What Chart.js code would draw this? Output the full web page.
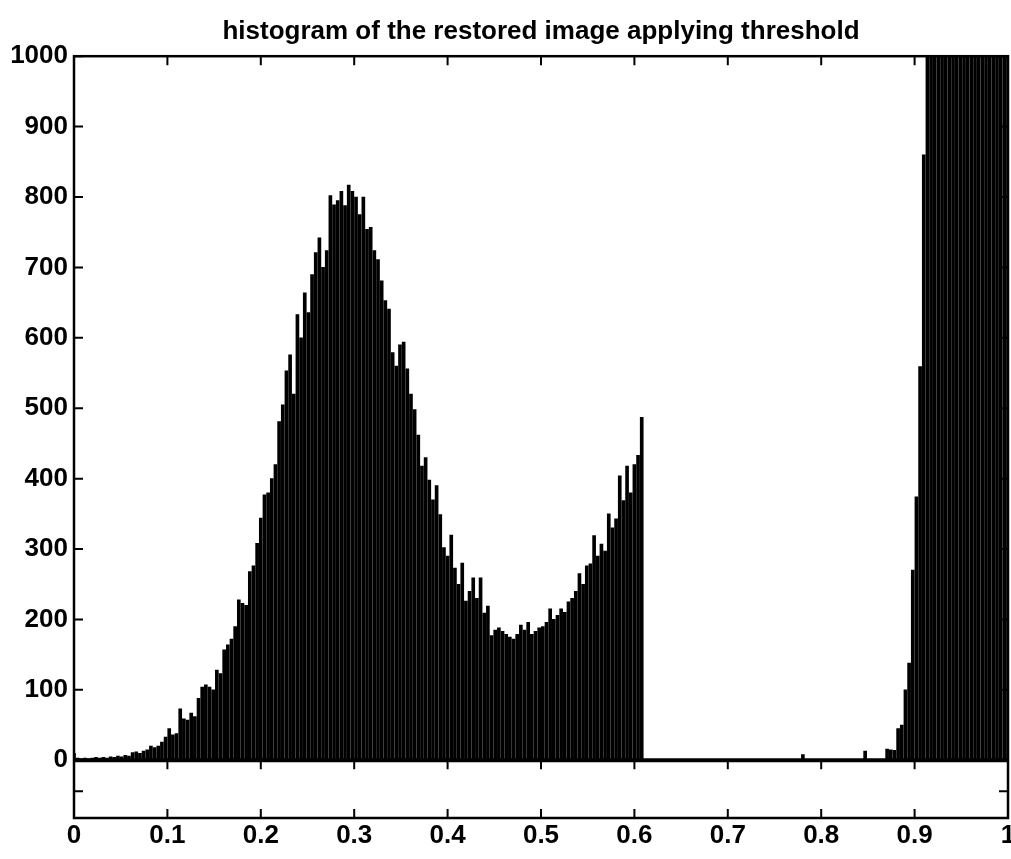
<!DOCTYPE html>
<html>
<head>
<meta charset="utf-8">
<title>histogram of the restored image applying threshold</title>
<script src="https://cdn.jsdelivr.net/npm/chart.js@4.4.0/dist/chart.umd.min.js"></script>
<style>
  html, body { margin: 0; padding: 0; background: #fff; }
</style>
</head>
<body>
<canvas id="myChart" width="1011" height="859"></canvas>
<script>
// histogram data, 256 bins over [0, 1]
var nBins = 256;

// counts per bin (values above 1000 are cut by the axis)
var counts = [
  // 0 - 31
  10, 3, 2, 3, 2, 3, 4, 3, 4, 3, 5, 4, 6, 5, 7, 6,
  11, 12, 10, 13, 15, 20, 18, 20, 26, 33, 45, 36, 38, 73, 59, 57,
  // 32 - 63
  67, 62, 88, 104, 107, 104, 100, 128, 123, 157, 164, 172, 190, 228, 223, 220,
  268, 276, 308, 344, 377, 380, 400, 420, 481, 505, 553, 576, 520, 633, 600, 664,
  // 64 - 95
  636, 690, 721, 742, 700, 724, 802, 789, 795, 808, 788, 817, 808, 800, 775, 800,
  754, 757, 724, 711, 681, 653, 641, 579, 560, 590, 594, 556, 520, 498, 462, 418,
  // 96 - 127
  430, 398, 370, 390, 349, 302, 290, 320, 273, 250, 280, 226, 240, 259, 230, 259,
  209, 219, 177, 185, 188, 183, 179, 175, 172, 179, 192, 185, 196, 179, 183, 188,
  // 128 - 159
  190, 196, 215, 200, 206, 215, 210, 225, 230, 240, 265, 250, 276, 279, 319, 290,
  307, 297, 350, 330, 343, 404, 369, 418, 380, 420, 433, 487, 0, 0, 0, 0,
  // 160 - 191
  0, 0, 0, 0, 0, 0, 0, 0, 0, 0, 0, 0, 0, 0, 0, 0,
  0, 0, 0, 0, 0, 0, 0, 0, 0, 0, 0, 0, 0, 0, 0, 0,
  // 192 - 223
  0, 0, 0, 0, 0, 0, 0, 8, 0, 0, 0, 0, 0, 0, 0, 0,
  0, 0, 0, 0, 0, 0, 0, 0, 13, 0, 0, 0, 0, 0, 16, 15,
  // 224 - 255
  14, 45, 50, 100, 138, 270, 374, 559, 860, 1150, 1420, 1630, 1880, 2050, 2310, 2480,
  2620, 2900, 3050, 3180, 3340, 3510, 3620, 3800, 3950, 4100, 4300, 4500, 4850, 5200, 5600, 6400
];

var binCenters = [];
for (var i = 0; i < nBins; i++) {
  binCenters.push(i / (nBins - 1));
}

var xTicks = [0, 0.1, 0.2, 0.3, 0.4, 0.5, 0.6, 0.7, 0.8, 0.9, 1];
var xTickLabels = ['0', '0.1', '0.2', '0.3', '0.4', '0.5', '0.6', '0.7', '0.8', '0.9', '1'];
var yTicks = [0, 100, 200, 300, 400, 500, 600, 700, 800, 900, 1000];
var yTickLabels = ['0', '100', '200', '300', '400', '500', '600', '700', '800', '900', '1000'];
var yMin = -82;
var yMax = 1000;
var stripTick = -44;   // tick on the grey-bar strip under the histogram

var points = binCenters.map(function (x, i) {
  return { x: x, y: counts[i] };
});

// matlab style box with inward ticks, zero line and strip
var matlabAxes = {
  id: 'matlabAxes',
  beforeDatasetsDraw: function (chart) {
    var ctx = chart.ctx;
    var a = chart.chartArea;
    var xs = chart.scales.x;
    var ys = chart.scales.y;
    var len = 9;
    ctx.save();
    ctx.strokeStyle = '#000';
    ctx.lineWidth = 2;
    ctx.beginPath();
    yTicks.forEach(function (v) {
      var py = ys.getPixelForValue(v);
      ctx.moveTo(a.left, py); ctx.lineTo(a.left + len, py);
      ctx.moveTo(a.right, py); ctx.lineTo(a.right - len, py);
    });
    xTicks.forEach(function (v) {
      var px = xs.getPixelForValue(v);
      ctx.moveTo(px, a.top); ctx.lineTo(px, a.top + len);
    });
    ctx.stroke();
    ctx.restore();
  },
  afterDatasetsDraw: function (chart) {
    var ctx = chart.ctx;
    var a = chart.chartArea;
    var xs = chart.scales.x;
    var ys = chart.scales.y;
    var len = 9;
    var y0 = ys.getPixelForValue(0);
    var ys2 = ys.getPixelForValue(stripTick);
    ctx.save();
    ctx.strokeStyle = '#000';
    // zero line
    ctx.lineWidth = 4;
    ctx.beginPath();
    ctx.moveTo(a.left, y0); ctx.lineTo(a.right, y0);
    ctx.stroke();
    // ticks on the strip
    ctx.lineWidth = 2;
    ctx.beginPath();
    xTicks.forEach(function (v) {
      var px = xs.getPixelForValue(v);
      ctx.moveTo(px, y0); ctx.lineTo(px, y0 + len);
      ctx.moveTo(px, a.bottom); ctx.lineTo(px, a.bottom - len);
    });
    ctx.moveTo(a.left, ys2); ctx.lineTo(a.left + len, ys2);
    ctx.moveTo(a.right, ys2); ctx.lineTo(a.right - len, ys2);
    ctx.stroke();
    // box
    ctx.lineWidth = 2.5;
    ctx.strokeRect(a.left, a.top, a.right - a.left, a.bottom - a.top);
    ctx.restore();
  }
};

Chart.defaults.font.family = '"Liberation Sans", Arial, sans-serif';
Chart.defaults.color = '#000';

var ctx = document.getElementById('myChart').getContext('2d');
var chart = new Chart(ctx, {
  type: 'bar',
  data: {
    datasets: [{
      data: points,
      backgroundColor: '#000',
      borderWidth: 0,
      barThickness: 3
    }]
  },
  options: {
    responsive: false,
    animation: false,
    layout: {
      autoPadding: false,
      padding: { left: 0, right: 3, top: 0, bottom: 0 }
    },
    plugins: {
      legend: { display: false },
      tooltip: { enabled: false },
      title: {
        display: true,
        text: 'histogram of the restored image applying threshold',
        fullSize: false,
        color: '#000',
        font: { size: 26, weight: 'bold' },
        padding: { top: 16, bottom: 9 }
      }
    },
    scales: {
      x: {
        type: 'linear',
        min: 0,
        max: 1,
        offset: false,
        grid: { display: false, drawTicks: false },
        border: { display: false },
        afterBuildTicks: function (s) {
          s.ticks = xTicks.map(function (v) { return { value: v }; });
        },
        afterFit: function (s) {
          s.height = 41;
          s.paddingLeft = 0;
          s.paddingRight = 0;
        },
        ticks: {
          autoSkip: false,
          maxRotation: 0,
          padding: 2,
          color: '#000',
          font: { size: 26, weight: 'bold' },
          callback: function (v, i) { return xTickLabels[i]; }
        }
      },
      y: {
        min: yMin,
        max: yMax,
        grid: { display: false, drawTicks: false },
        border: { display: false },
        afterBuildTicks: function (s) {
          s.ticks = yTicks.map(function (v) { return { value: v }; });
        },
        afterFit: function (s) { s.width = 74; },
        ticks: {
          padding: 6,
          color: '#000',
          font: { size: 26, weight: 'bold' },
          callback: function (v, i) { return yTickLabels[i]; }
        }
      }
    }
  },
  plugins: [matlabAxes]
});
</script>
</body>
</html>
